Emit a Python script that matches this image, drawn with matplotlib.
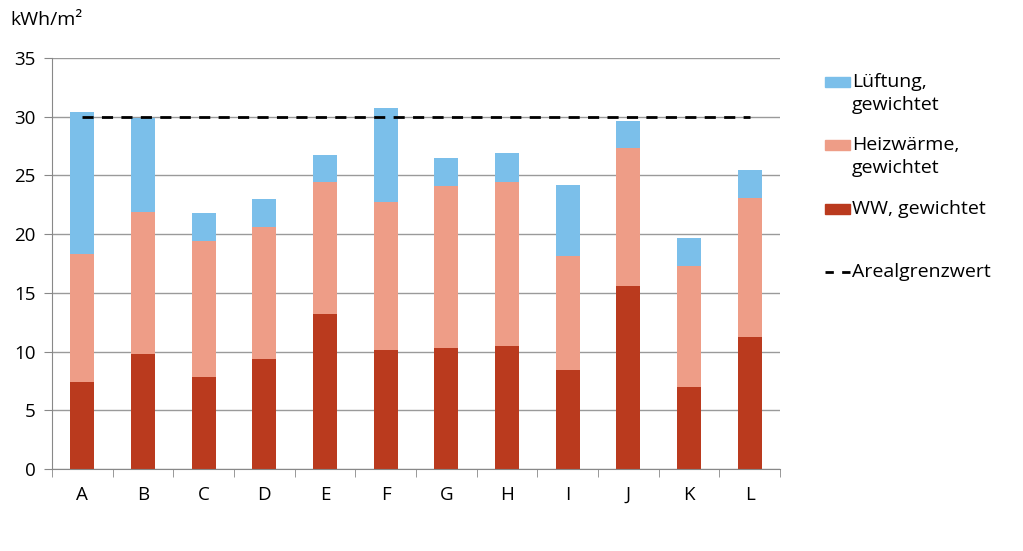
import numpy as np
import matplotlib.pyplot as plt
from matplotlib.patches import Rectangle
from matplotlib.lines import Line2D

plt.rcParams['font.family'] = ['Open Sans', 'DejaVu Sans']

labels = ['A', 'B', 'C', 'D', 'E', 'F', 'G', 'H', 'I', 'J', 'K', 'L']
ww = [7.4, 9.8, 7.8, 9.4, 13.2, 10.1, 10.3, 10.5, 8.4, 15.6, 7.0, 11.2]
heiz = [10.9, 12.1, 11.6, 11.2, 11.2, 12.6, 13.8, 13.9, 9.7, 11.7, 10.3, 11.9]
lueft = [12.1, 8.0, 2.4, 2.4, 2.3, 8.0, 2.4, 2.5, 6.1, 2.3, 2.4, 2.4]
grenzwert = 30

c_lueft = '#7bbfea'
c_heiz = '#ee9d87'
c_ww = '#ba3a1e'

x = np.arange(len(labels))
ww = np.array(ww)
heiz = np.array(heiz)
lueft = np.array(lueft)

fig = plt.figure(figsize=(10.23, 5.51), dpi=100)
ax = fig.add_axes([52/1023, 1 - 469/551, 728/1023, 411/551])

w = 0.4
ax.bar(x, ww, w, color=c_ww, zorder=2)
ax.bar(x, heiz, w, bottom=ww, color=c_heiz, zorder=2)
ax.bar(x, lueft, w, bottom=ww + heiz, color=c_lueft, zorder=2)
ax.plot([x[0], x[-1]], [grenzwert, grenzwert], color='black', ls=(0, (4, 3)), lw=2, zorder=3)

ax.set_xlim(-0.5, len(labels) - 0.5)
ax.set_ylim(0, 35)
ax.set_yticks(range(0, 36, 5))
ax.set_xticks(x)
ax.set_xticklabels(labels)
ax.set_xticks(np.arange(-0.5, len(labels), 1), minor=True)
ax.tick_params(axis='x', which='major', length=0, pad=12, labelsize=13.5)
ax.tick_params(axis='x', which='minor', length=6, color='#888888', direction='out')
ax.tick_params(axis='y', length=6, color='#888888', labelsize=13.5, pad=6)
ax.grid(axis='y', color='#9a9a9a', lw=1, zorder=0)
ax.set_axisbelow(True)
for s in ['top', 'right']:
    ax.spines[s].set_visible(False)
for s in ['left', 'bottom']:
    ax.spines[s].set_color('#888888')

fig.text(10/1023, 1 - 20/551, 'kWh/m²', fontsize=14, va='center')

# legend
leg = [(c_lueft, 'Lüftung,\ngewichtet', 82),
       (c_heiz, 'Heizwärme,\ngewichtet', 145),
       (c_ww, 'WW, gewichtet', 209)]
for col, txt, yy in leg:
    fig.patches.append(Rectangle((825/1023, 1 - (yy + 5)/551), 25/1023, 10/551,
                                 color=col, transform=fig.transFigure))
    fig.text(852/1023, 1 - (yy - 9)/551, txt, fontsize=14, va='top', linespacing=1.35)
fig.lines.append(Line2D([825/1023, 850/1023], [1 - 272/551, 1 - 272/551], color='black',
                        ls=(0, (3, 3)), lw=2, transform=fig.transFigure))
fig.text(852/1023, 1 - 272/551, 'Arealgrenzwert', fontsize=14, va='center')

fig.savefig('out.png', dpi=100)
